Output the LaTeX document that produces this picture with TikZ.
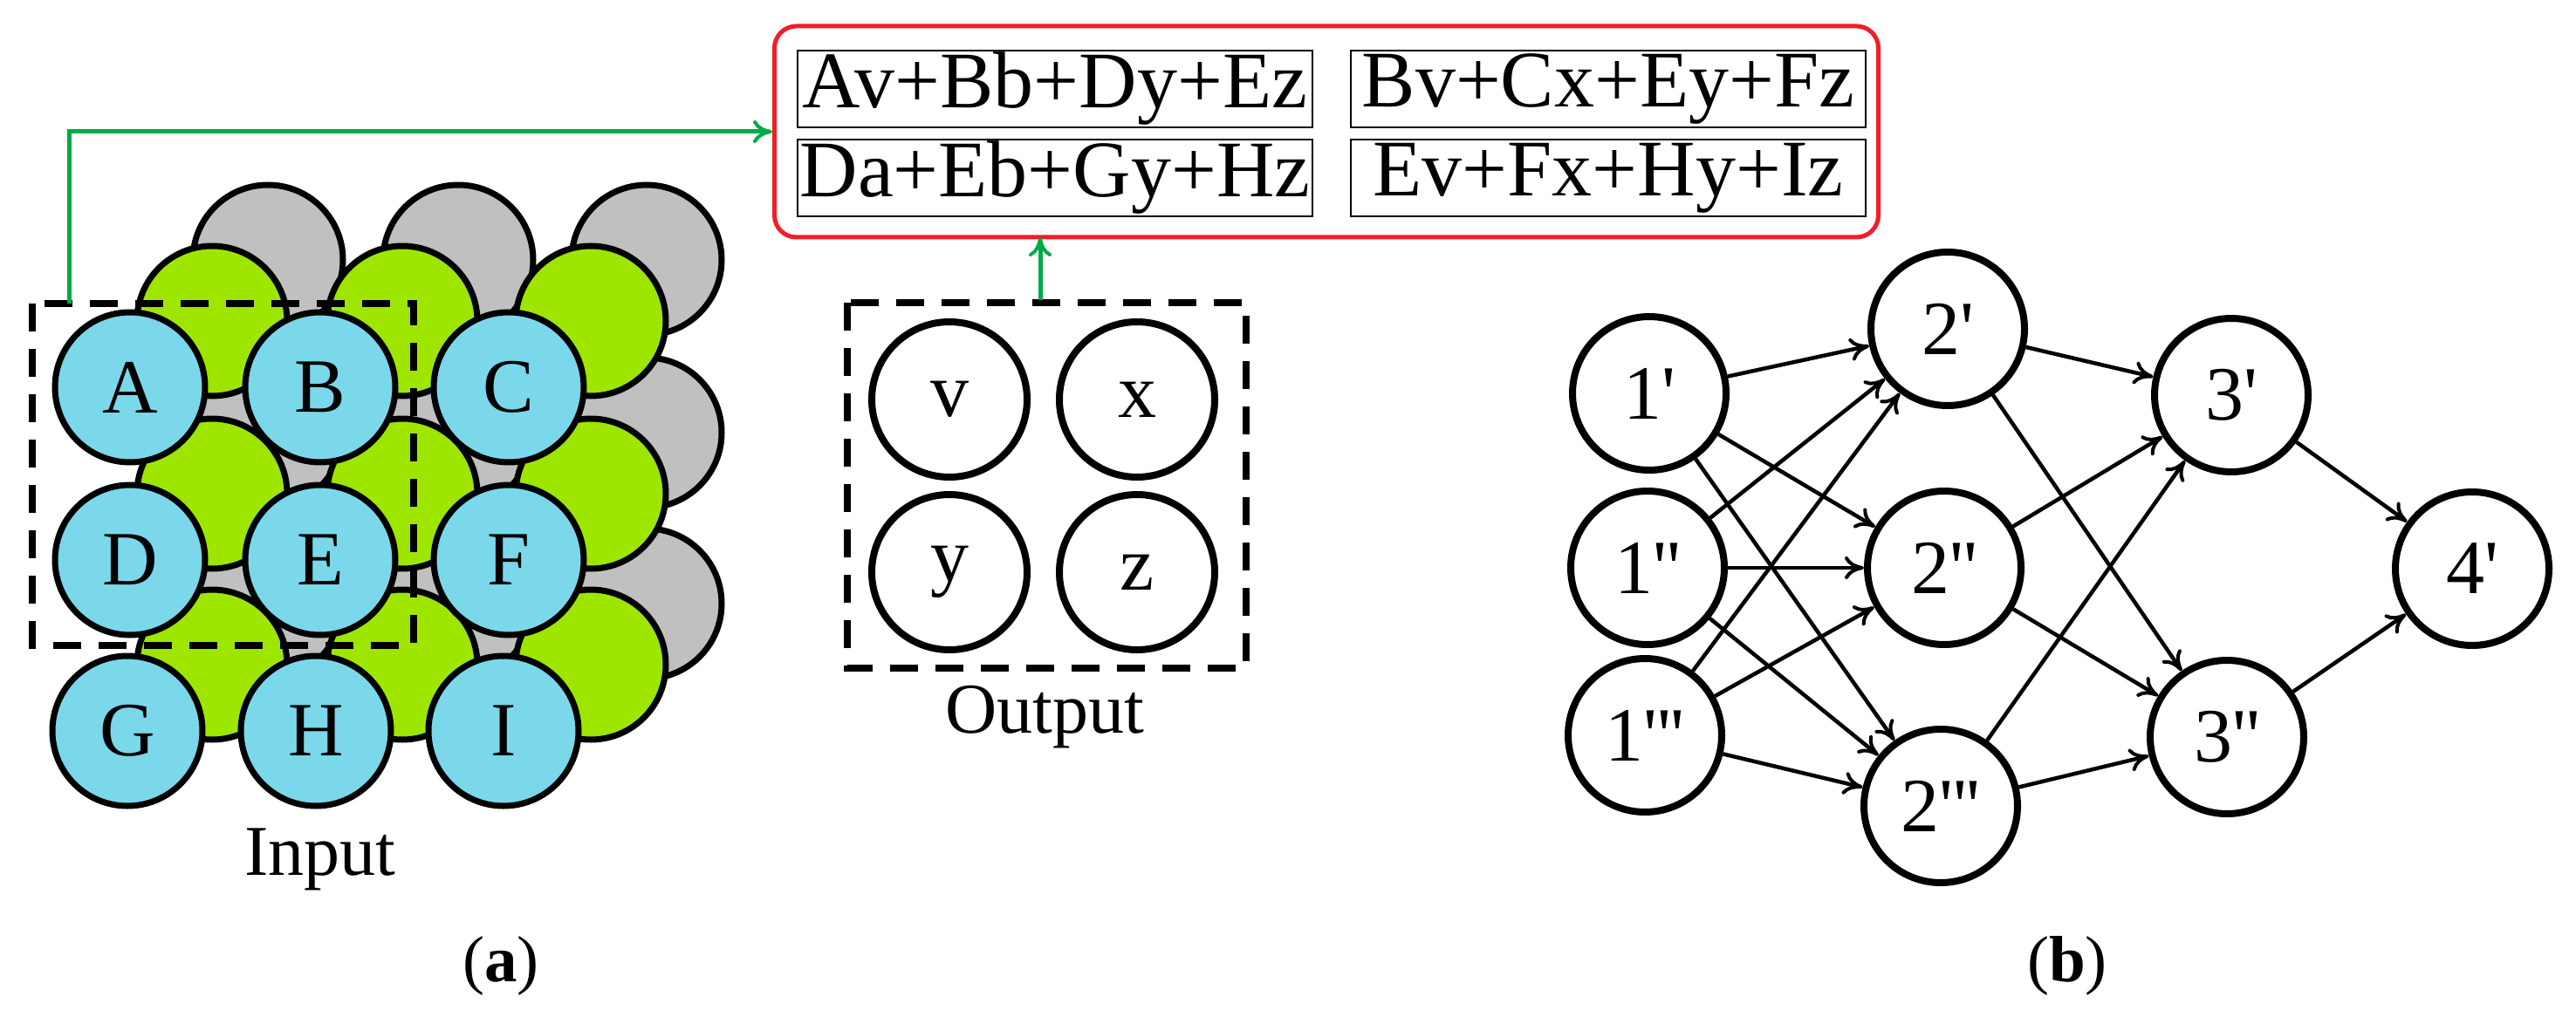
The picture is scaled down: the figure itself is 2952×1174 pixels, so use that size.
\documentclass[tikz,border=0pt]{standalone}
\usepackage{fontspec}
\setmainfont{Liberation Serif}
\usetikzlibrary{arrows.meta}
\definecolor{cblue}{RGB}{122,216,234}
\definecolor{cgreen}{RGB}{158,230,0}
\definecolor{cgray}{RGB}{192,192,192}
\definecolor{cred}{RGB}{240,30,40}
\definecolor{cgr}{RGB}{0,170,70}
\newcommand{\pr}{\textquotesingle}
\begin{document}
\begin{tikzpicture}[x=1pt,y=-1pt,
  ball/.style={circle,draw=black,line width=7pt,minimum size=172pt,inner sep=0pt,font=\fontsize{88}{90}\selectfont},
  nn/.style={circle,draw=black,line width=8pt,minimum size=172pt,inner sep=0pt,font=\fontsize{88}{90}\selectfont},
  eq/.style={draw=black,line width=2.5pt,minimum width=590pt,minimum height=88pt,inner sep=0pt,font=\fontsize{92}{95}\selectfont},
  dbox/.style={draw=black,line width=8pt,dash pattern=on 32pt off 20pt},
  ed/.style={-{To[length=22pt,width=26pt,line width=4pt]},line width=4.5pt},
  gar/.style={-{To[length=22pt,width=26pt,line width=4pt]},draw=cgr,line width=5pt}]
\useasboundingbox (0,0) rectangle (2952,1174);
% input balls
\foreach \r/\y in {0/444,1/642,2/838}{
  \foreach \c/\x in {0/149,1/367,2/583}{
    \node[ball,fill=cgray] (gr\r\c) at (\x+158,\y-146) {};
  }}
\foreach \r/\y in {0/444,1/642,2/838}{
  \foreach \c/\x in {0/149,1/367,2/583}{
    \node[ball,fill=cgreen] (gn\r\c) at (\x+94,\y-76) {};
  }}
\node[ball,fill=cblue] (A) at (149,444) {A};
\node[ball,fill=cblue] (B) at (367,444) {B};
\node[ball,fill=cblue] (C) at (583,444) {C};
\node[ball,fill=cblue] (D) at (149,642) {D};
\node[ball,fill=cblue] (E) at (367,642) {E};
\node[ball,fill=cblue] (F) at (583,642) {F};
\node[ball,fill=cblue] (G) at (146,838) {G};
\node[ball,fill=cblue] (H) at (362,838) {H};
\node[ball,fill=cblue] (I) at (577,838) {I};
\draw[dbox] (37,348) rectangle (474,740);
\coordinate (ib) at (79,348);
\node[font=\fontsize{82}{85}\selectfont] (inl) at (367,985) {Input};
% equations
\node[draw=cred,line width=5pt,rounded corners=25pt,minimum width=1265pt,minimum height=242pt] (red) at (1520,151) {};
\node[eq] (e1) at (1209,102) {Av+Bb+Dy+Ez};
\node[eq] (e2) at (1843,102) {Bv+Cx+Ey+Fz};
\node[eq] (e3) at (1209,204) {Da+Eb+Gy+Hz};
\node[eq] (e4) at (1843,204) {Ev+Fx+Hy+Iz};
\draw[gar] (ib) |- (red.west);
% output
\draw[dbox] (971,347) rectangle (1428,766);
\node[nn,minimum size=178pt] (v) at (1088,458) {v};
\node[nn,minimum size=178pt] (x) at (1303,458) {x};
\node[nn,minimum size=178pt] (y) at (1088,656) {y};
\node[nn,minimum size=178pt] (z) at (1303,656) {z};
\coordinate (ob) at (1192,344);
\draw[gar] (ob) -- (1192,272);
\node[font=\fontsize{82}{85}\selectfont] (outl) at (1197,822) {Output};
% network
\node[nn,minimum size=176pt] (n1a) at (1890,451) {1\pr};
\node[nn,minimum size=176pt] (n1b) at (1888,651) {1\pr\pr};
\node[nn,minimum size=176pt] (n1c) at (1885,843) {1\pr\pr\pr};
\node[nn,minimum size=176pt] (n2a) at (2232,377) {2\pr};
\node[nn,minimum size=176pt] (n2b) at (2228,651) {2\pr\pr};
\node[nn,minimum size=176pt] (n2c) at (2224,924) {2\pr\pr\pr};
\node[nn,minimum size=176pt] (n3a) at (2557,453) {3\pr};
\node[nn,minimum size=176pt] (n3b) at (2552,845) {3\pr\pr};
\node[nn,minimum size=176pt] (n4) at (2833,652) {4\pr};
\foreach \s in {n1a,n1b,n1c}{\foreach \t in {n2a,n2b,n2c}{\draw[ed] (\s) -- (\t);}}
\foreach \s in {n2a,n2b,n2c}{\foreach \t in {n3a,n3b}{\draw[ed] (\s) -- (\t);}}
\draw[ed] (n3a) -- (n4);
\draw[ed] (n3b) -- (n4);
\node[font=\fontsize{75}{80}\selectfont] (la) at (574,1107) {(\textbf{a})};
\node[font=\fontsize{75}{80}\selectfont] (lb) at (2369,1107) {(\textbf{b})};
\end{tikzpicture}
\end{document}
